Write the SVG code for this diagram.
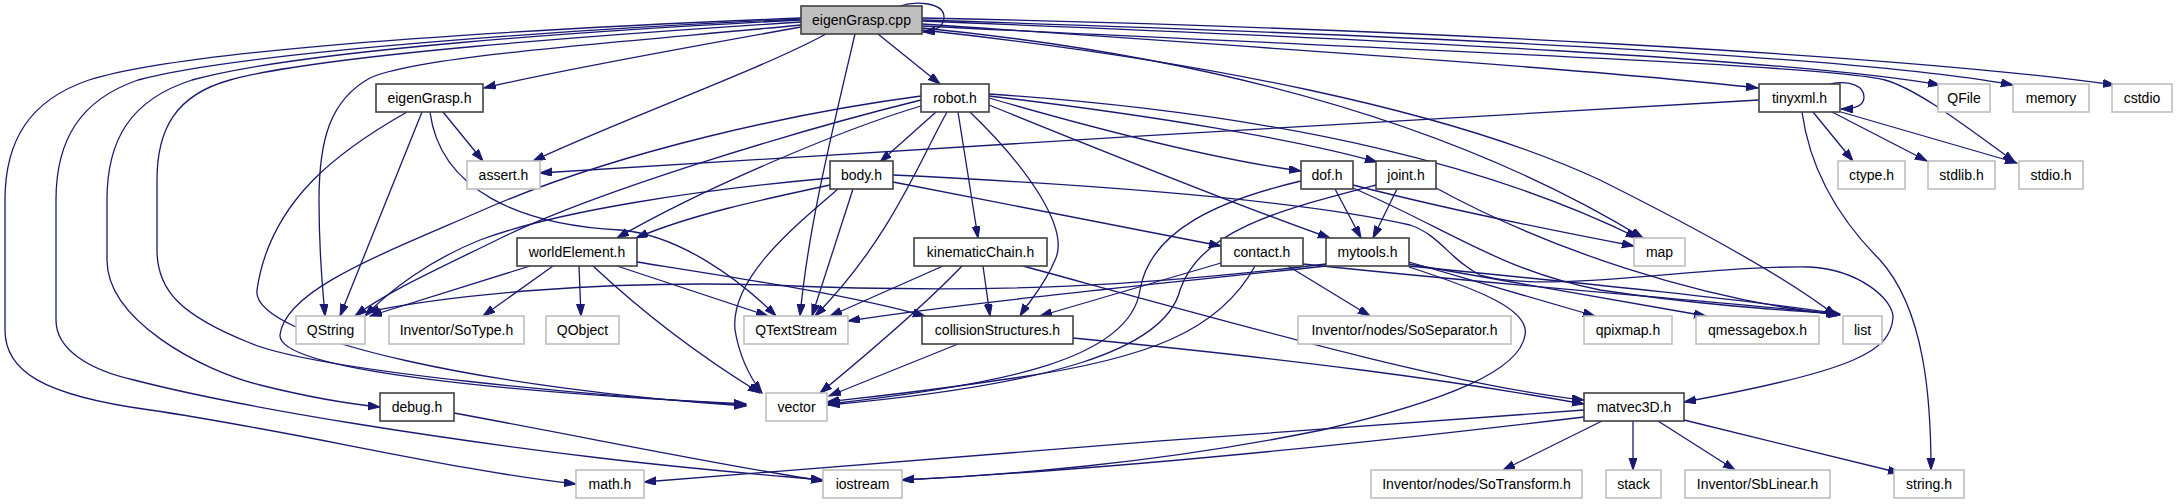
<svg xmlns="http://www.w3.org/2000/svg" width="2176" height="504" viewBox="0 0 2176 504">
<style>
.n rect{fill:#fff;stroke:#404040;stroke-width:1.6}
.u rect{fill:#fff;stroke:#bfbfbf;stroke-width:1.6}
.r rect{fill:#bfbfbf;stroke:#404040;stroke-width:1.6}
text{font-family:"Liberation Sans",Arial,sans-serif;font-size:14px;fill:#000;text-anchor:middle}
#edges path{fill:none;stroke:#191970;stroke-width:1.3;marker-end:url(#ah)}
</style>
<defs>
<marker id="ah" markerUnits="userSpaceOnUse" markerWidth="13" markerHeight="9" refX="12" refY="4" orient="auto">
<path d="M0,0 L12,4 L0,8 z" fill="#191970" stroke="#191970" stroke-width="1"/>
</marker>
</defs>
<rect width="2176" height="504" fill="#fff"/>
<g id="edges">
<path d="M900,6 C915,1 944,2 944,17 C944,27 935,31 923,32"/>
<path d="M801,27 C700,45 560,70 484,88"/>
<path d="M878,34 L940,84"/>
<path d="M826,34 C760,70 620,120 533,161"/>
<path d="M801,25 C650,40 420,55 370,78 C330,100 319,140 319,200 C319,260 323,290 325,316"/>
<path d="M855,34 C830,140 808,230 800,316"/>
<path d="M801,22 C600,35 320,55 230,80 C175,95 157,130 157,180 L157,250 C157,290 180,315 250,343 C320,372 600,396 746,405"/>
<path d="M801,20 C600,30 300,50 192,80 C130,100 107,140 107,200 L107,260 C107,320 200,370 260,385 C300,395 340,403 380,407"/>
<path d="M801,19 C600,28 250,50 138,80 C80,100 56,140 56,200 L56,320 C56,350 90,370 134,380 C250,410 450,440 600,458 C700,470 780,476 823,480"/>
<path d="M801,18 C600,26 200,45 89,80 C30,100 5,140 5,200 L5,330 C5,370 40,395 150,410 C300,432 450,470 576,484"/>
<path d="M922,24 C1300,50 1600,70 1758,88"/>
<path d="M922,21 C1400,40 1800,60 1940,85"/>
<path d="M922,20 C1400,35 1850,55 2013,85"/>
<path d="M922,18 C1400,28 1900,55 2115,85"/>
<path d="M922,26 C1400,50 1830,65 1885,80 C1920,90 1970,130 2015,162"/>
<path d="M922,28 C1200,55 1450,120 1643,238"/>
<path d="M922,30 C1200,60 1450,110 1600,180 C1700,230 1790,280 1836,316"/>
<path d="M936,112 L880,162"/>
<path d="M947,112 C920,160 890,240 815,316"/>
<path d="M958,112 L978,238"/>
<path d="M970,112 C1030,170 1070,230 1055,260 C1045,285 1030,300 1020,316"/>
<path d="M921,106 C840,130 700,190 617,238"/>
<path d="M921,100 C800,130 600,190 503,237 C440,268 390,290 355,316"/>
<path d="M921,96 C800,112 620,150 483,210 C380,255 285,290 280,335 C278,370 500,392 746,404"/>
<path d="M989,98 C1100,130 1220,160 1301,171"/>
<path d="M989,96 C1150,115 1300,140 1377,162"/>
<path d="M989,105 C1100,150 1250,210 1330,238"/>
<path d="M989,94 C1300,115 1500,170 1638,238"/>
<path d="M830,185 C760,200 690,215 636,238"/>
<path d="M830,178 C700,190 560,210 480,240 C430,260 390,290 365,316"/>
<path d="M838,189 C790,230 730,280 735,330 C740,360 752,380 762,393"/>
<path d="M853,189 L812,316"/>
<path d="M893,182 L1221,246"/>
<path d="M893,175 C1100,185 1300,200 1410,225 C1440,235 1450,260 1480,275 C1550,295 1700,265 1810,267 C1860,270 1894,300 1893,318 C1890,350 1860,370 1684,402"/>
<path d="M943,266 L830,316"/>
<path d="M962,266 C920,310 860,360 820,393"/>
<path d="M983,266 L990,316"/>
<path d="M1023,266 C1250,328 1450,385 1584,400"/>
<path d="M958,344 L829,396"/>
<path d="M1073,338 C1300,360 1450,380 1584,404"/>
<path d="M1221,263 L1040,316"/>
<path d="M1255,266 C1220,330 1150,360 1000,380 C920,392 860,398 827,402"/>
<path d="M1288,266 L1370,316"/>
<path d="M1303,264 C1500,285 1700,300 1838,314"/>
<path d="M1326,264 C1150,285 1000,295 770,285 C600,280 450,295 367,312"/>
<path d="M1326,266 C1100,290 950,305 848,321"/>
<path d="M1409,262 L1595,316"/>
<path d="M1409,264 L1706,316"/>
<path d="M1409,266 C1600,285 1750,300 1840,314"/>
<path d="M1409,267 C1480,290 1530,310 1525,335 C1520,370 1450,400 1322,430 C1150,465 1000,475 902,480"/>
<path d="M1335,189 L1361,238"/>
<path d="M1301,181 C1220,200 1150,230 1140,290 C1130,360 1000,385 828,404"/>
<path d="M1353,185 C1450,210 1550,230 1634,246"/>
<path d="M1353,188 C1450,230 1500,270 1600,290 C1700,305 1780,310 1838,314"/>
<path d="M1397,189 L1373,238"/>
<path d="M1376,185 C1280,210 1200,230 1180,290 C1165,350 1050,385 828,405"/>
<path d="M1436,188 C1550,250 1700,300 1840,315"/>
<path d="M530,266 L370,316"/>
<path d="M553,266 L483,316"/>
<path d="M579,266 L581,316"/>
<path d="M593,266 C640,310 690,350 760,393"/>
<path d="M617,266 L768,316"/>
<path d="M637,262 C750,280 850,295 925,316"/>
<path d="M443,112 L483,161"/>
<path d="M422,112 L340,316"/>
<path d="M407,112 C340,150 270,200 257,290 C250,340 500,390 746,406"/>
<path d="M430,112 C440,190 520,225 620,230 C680,235 740,280 776,316"/>
<path d="M1830,84 C1850,80 1864,86 1864,97 C1864,106 1855,109 1841,109"/>
<path d="M1759,100 C1400,120 900,150 540,173"/>
<path d="M1813,112 L1853,161"/>
<path d="M1832,112 L1927,161"/>
<path d="M1841,112 L2017,163"/>
<path d="M1802,112 C1810,170 1840,220 1880,260 C1925,310 1931,400 1931,470"/>
<path d="M1602,421 L1503,470"/>
<path d="M1633,421 L1633,470"/>
<path d="M1658,421 L1735,470"/>
<path d="M1684,420 L1900,473"/>
<path d="M1584,410 C1300,430 900,460 644,482"/>
<path d="M1584,417 C1350,445 1100,470 902,480"/>
<path d="M454,413 C600,440 720,465 823,481"/>
</g>
<g id="n_cpp" class="r"><rect x="801" y="6" width="121" height="28"/><text x="861.5" y="25">eigenGrasp.cpp</text></g>
<g id="n_robot" class="n"><rect x="921" y="84" width="68" height="28"/><text x="955" y="103">robot.h</text></g>
<g id="n_eigenGrasp_h" class="n"><rect x="376" y="84" width="107" height="28"/><text x="429.5" y="103">eigenGrasp.h</text></g>
<g id="n_tinyxml" class="n"><rect x="1759" y="84" width="81" height="28"/><text x="1799.5" y="103">tinyxml.h</text></g>
<g id="n_body" class="n"><rect x="830" y="161" width="63" height="28"/><text x="861.5" y="180">body.h</text></g>
<g id="n_dof" class="n"><rect x="1301" y="161" width="52" height="28"/><text x="1327" y="180">dof.h</text></g>
<g id="n_joint" class="n"><rect x="1376" y="161" width="60" height="28"/><text x="1406" y="180">joint.h</text></g>
<g id="n_worldElement" class="n"><rect x="517" y="238" width="120" height="28"/><text x="577" y="257">worldElement.h</text></g>
<g id="n_kinematicChain" class="n"><rect x="914" y="238" width="133" height="28"/><text x="980.5" y="257">kinematicChain.h</text></g>
<g id="n_contact" class="n"><rect x="1221" y="238" width="82" height="28"/><text x="1262" y="257">contact.h</text></g>
<g id="n_mytools" class="n"><rect x="1326" y="238" width="83" height="28"/><text x="1367.5" y="257">mytools.h</text></g>
<g id="n_collision" class="n"><rect x="922" y="316" width="151" height="28"/><text x="997.5" y="335">collisionStructures.h</text></g>
<g id="n_debug" class="n"><rect x="380" y="393" width="74" height="28"/><text x="417" y="412">debug.h</text></g>
<g id="n_matvec3D" class="n"><rect x="1584" y="393" width="100" height="28"/><text x="1634" y="412">matvec3D.h</text></g>
<g id="n_assert" class="u"><rect x="467" y="161" width="73" height="28"/><text x="503.5" y="180">assert.h</text></g>
<g id="n_QFile" class="u"><rect x="1938" y="84" width="52" height="28"/><text x="1964" y="103">QFile</text></g>
<g id="n_memory" class="u"><rect x="2013" y="84" width="76" height="28"/><text x="2051" y="103">memory</text></g>
<g id="n_cstdio" class="u"><rect x="2112" y="84" width="60" height="28"/><text x="2142" y="103">cstdio</text></g>
<g id="n_ctype" class="u"><rect x="1838" y="161" width="67" height="28"/><text x="1871.5" y="180">ctype.h</text></g>
<g id="n_stdlib" class="u"><rect x="1928" y="161" width="67" height="28"/><text x="1961.5" y="180">stdlib.h</text></g>
<g id="n_stdio" class="u"><rect x="2019" y="161" width="64" height="28"/><text x="2051" y="180">stdio.h</text></g>
<g id="n_map" class="u"><rect x="1634" y="238" width="51" height="28"/><text x="1659.5" y="257">map</text></g>
<g id="n_QString" class="u"><rect x="296" y="316" width="69" height="28"/><text x="330.5" y="335">QString</text></g>
<g id="n_SoType" class="u"><rect x="389" y="316" width="135" height="28"/><text x="456.5" y="335">Inventor/SoType.h</text></g>
<g id="n_QObject" class="u"><rect x="546" y="316" width="73" height="28"/><text x="582.5" y="335">QObject</text></g>
<g id="n_QTextStream" class="u"><rect x="744" y="316" width="104" height="28"/><text x="796" y="335">QTextStream</text></g>
<g id="n_SoSeparator" class="u"><rect x="1298" y="316" width="213" height="28"/><text x="1404.5" y="335">Inventor/nodes/SoSeparator.h</text></g>
<g id="n_qpixmap" class="u"><rect x="1584" y="316" width="88" height="28"/><text x="1628" y="335">qpixmap.h</text></g>
<g id="n_qmessagebox" class="u"><rect x="1696" y="316" width="123" height="28"/><text x="1757.5" y="335">qmessagebox.h</text></g>
<g id="n_list" class="u"><rect x="1843" y="316" width="39" height="28"/><text x="1862.5" y="335">list</text></g>
<g id="n_vector" class="u"><rect x="766" y="393" width="61" height="28"/><text x="796.5" y="412">vector</text></g>
<g id="n_math" class="u"><rect x="576" y="470" width="68" height="28"/><text x="610" y="489">math.h</text></g>
<g id="n_iostream" class="u"><rect x="823" y="470" width="79" height="28"/><text x="862.5" y="489">iostream</text></g>
<g id="n_SoTransform" class="u"><rect x="1371" y="470" width="211" height="28"/><text x="1476.5" y="489">Inventor/nodes/SoTransform.h</text></g>
<g id="n_stack" class="u"><rect x="1606" y="470" width="55" height="28"/><text x="1633.5" y="489">stack</text></g>
<g id="n_SbLinear" class="u"><rect x="1685" y="470" width="145" height="28"/><text x="1757.5" y="489">Inventor/SbLinear.h</text></g>
<g id="n_string" class="u"><rect x="1894" y="470" width="70" height="28"/><text x="1929" y="489">string.h</text></g>
</svg>
